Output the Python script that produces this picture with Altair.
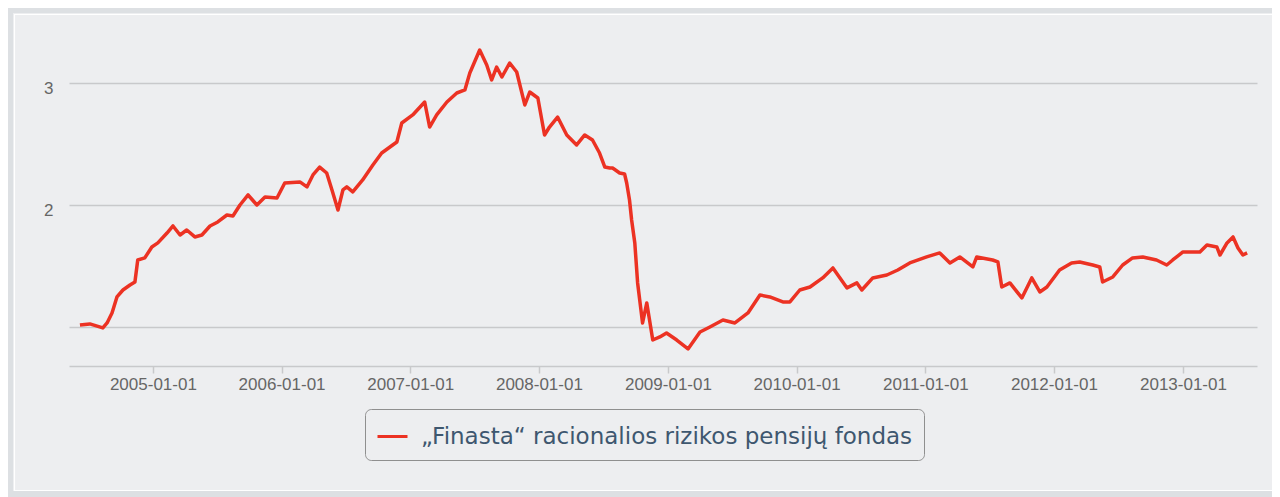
import altair as alt
import pandas as pd

series_name = "„Finasta“ racionalios rizikos pensijų fondas"

dates = [
    "2004-06-08", "2004-07-06", "2004-08-12", "2004-08-24", "2004-09-07", "2004-09-21",
    "2004-10-08", "2004-10-28", "2004-11-11", "2004-11-19", "2004-12-09", "2004-12-29",
    "2005-01-15", "2005-02-10", "2005-02-27", "2005-03-19", "2005-04-07", "2005-04-30",
    "2005-05-20", "2005-06-12", "2005-07-04", "2005-07-30", "2005-08-16", "2005-09-05",
    "2005-09-28", "2005-10-23", "2005-11-15", "2005-12-19",
    "2006-01-10", "2006-02-22", "2006-03-14", "2006-03-31", "2006-04-19", "2006-05-09",
    "2006-05-24", "2006-06-10", "2006-06-24", "2006-07-05", "2006-07-22", "2006-08-19",
    "2006-09-17", "2006-10-12", "2006-11-24", "2006-12-08",
    "2007-01-08", "2007-02-11", "2007-02-25", "2007-03-17", "2007-04-15", "2007-05-13",
    "2007-06-05", "2007-06-19", "2007-07-17", "2007-08-06", "2007-08-20", "2007-09-03",
    "2007-09-18", "2007-10-10", "2007-10-30", "2007-11-22", "2007-12-06", "2007-12-29",
    "2008-01-17", "2008-01-31", "2008-02-23", "2008-03-20", "2008-04-17", "2008-05-10",
    "2008-06-01", "2008-06-21", "2008-07-06", "2008-07-20", "2008-07-28", "2008-08-17",
    "2008-08-31", "2008-09-06", "2008-09-14", "2008-09-20", "2008-09-29", "2008-10-07",
    "2008-10-21", "2008-11-02", "2008-11-19", "2008-12-09", "2008-12-28",
    "2009-01-26", "2009-02-27", "2009-04-02", "2009-04-30", "2009-06-06", "2009-07-10",
    "2009-08-16", "2009-09-19", "2009-10-17", "2009-11-23", "2009-12-13",
    "2010-01-10", "2010-02-08", "2010-03-16", "2010-04-14", "2010-05-24", "2010-06-21",
    "2010-07-05", "2010-08-05", "2010-09-14", "2010-10-15", "2010-11-18",
    "2011-01-05", "2011-02-11", "2011-03-12", "2011-04-09", "2011-05-16", "2011-05-27",
    "2011-07-11", "2011-07-26", "2011-08-06", "2011-08-29", "2011-10-02", "2011-10-30",
    "2011-11-22", "2011-12-12",
    "2012-01-17", "2012-02-20", "2012-03-14", "2012-04-20", "2012-05-10", "2012-05-18",
    "2012-06-16", "2012-07-14", "2012-08-11", "2012-09-09", "2012-10-18", "2012-11-16",
    "2012-12-03",
    "2013-01-01", "2013-02-18", "2013-03-10", "2013-04-07", "2013-04-16", "2013-05-06",
    "2013-05-23", "2013-06-06", "2013-06-20", "2013-07-02",
]

values = [
    1.016, 1.025, 0.992, 1.033, 1.115, 1.246,
    1.303, 1.344, 1.369, 1.549, 1.566, 1.656,
    1.689, 1.770, 1.828, 1.754, 1.795, 1.738,
    1.754, 1.828, 1.861, 1.918, 1.910, 2.000,
    2.082, 2.000, 2.066, 2.057,
    2.180, 2.189, 2.148, 2.246, 2.311, 2.262,
    2.123, 1.959, 2.123, 2.148, 2.107, 2.205,
    2.328, 2.426, 2.516, 2.672,
    2.738, 2.844, 2.639, 2.738, 2.844, 2.918,
    2.943, 3.082, 3.270, 3.148, 3.025, 3.131,
    3.049, 3.164, 3.090, 2.820, 2.926, 2.877,
    2.574, 2.639, 2.721, 2.574, 2.492, 2.574,
    2.533, 2.426, 2.311, 2.303, 2.303, 2.262,
    2.254, 2.180, 2.041, 1.877, 1.689, 1.361,
    1.033, 1.197, 0.893, 0.918, 0.951,
    0.893, 0.820, 0.959, 1.000, 1.057, 1.033,
    1.115, 1.262, 1.246, 1.205, 1.205,
    1.303, 1.328, 1.402, 1.484, 1.320, 1.361,
    1.303, 1.402, 1.426, 1.467, 1.525,
    1.574, 1.607, 1.525, 1.574, 1.492, 1.574,
    1.549, 1.533, 1.328, 1.361, 1.238, 1.402,
    1.287, 1.328,
    1.467, 1.525, 1.533, 1.508, 1.492, 1.369,
    1.410, 1.508, 1.566, 1.574, 1.549, 1.508,
    1.549,
    1.615, 1.615, 1.672, 1.656, 1.590, 1.689,
    1.738, 1.648, 1.590, 1.607,
]

x_tick_years = [2005, 2006, 2007, 2008, 2009, 2010, 2011, 2012, 2013]
y_ticks = [1, 2, 3]

df = pd.DataFrame({"date": dates, "value": values, "series": series_name})

grid_gray = "#c8c9cb"
label_gray = "#666666"

line = alt.Chart(df).mark_line(strokeWidth=3.5, strokeJoin="round").encode(
    x=alt.X(
        "date:T",
        title=None,
        scale=alt.Scale(
            type="utc",
            nice=False,
            domain=[alt.DateTime(year=2004, month=5, date=8, utc=True),
                    alt.DateTime(year=2013, month=7, date=30, utc=True)],
        ),
        axis=alt.Axis(
            values=[alt.DateTime(year=y, month=1, date=1, utc=True) for y in x_tick_years],
            format="%Y-%m-%d",
            grid=False,
            domainColor=grid_gray, domainWidth=1.5,
            tickColor=grid_gray, tickWidth=1.5, tickSize=7,
            labelFont="Liberation Sans", labelFontSize=17, labelColor=label_gray,
            labelPadding=3, labelFlush=False, labelOverlap=False,
        ),
    ),
    y=alt.Y(
        "value:Q",
        title=None,
        scale=alt.Scale(domain=[0.68, 3.5], nice=False, zero=False),
        axis=alt.Axis(
            values=y_ticks,
            labelExpr="datum.value == 1 ? '' : datum.label",
            grid=True, gridColor=grid_gray, gridWidth=1.5,
            domain=False, ticks=False,
            labelFont="Liberation Sans", labelFontSize=17, labelColor=label_gray,
            labelPadding=16, labelBaseline="middle", labelOffset=6,
        ),
    ),
    color=alt.Color(
        "series:N",
        scale=alt.Scale(domain=[series_name], range=["#ec3223"]),
        legend=alt.Legend(
            title=None, orient="none", legendX=296, legendY=387,
            direction="horizontal",
            strokeColor="#8f8f8f", cornerRadius=6, padding=11,
            symbolType="stroke", symbolStrokeWidth=3, symbolSize=900,
            labelFont="DejaVu Sans", labelFontSize=23, labelColor="#3e576f",
            labelOffset=12, labelLimit=0,
        ),
    ),
)

frame = alt.Chart(alt.Data(values=[{"k": 1}])).mark_rect(
    filled=False, stroke="#dde0e3", strokeWidth=7
).encode(
    x=alt.value(-59.5), x2=alt.value(1240),
    y=alt.value(-12.5), y2=alt.value(472.5),
)

highlight = alt.Chart(alt.Data(values=[{"k": 1}])).mark_rect(
    filled=False, stroke="#ffffff", strokeWidth=1.2
).encode(
    x=alt.value(-54.5), x2=alt.value(1230),
    y=alt.value(-7.5), y2=alt.value(468.5),
)

chart = alt.layer(frame, highlight, line).properties(
    width=1188,
    height=344,
    padding={"left": 61, "top": 14, "right": 15, "bottom": 131},
    autosize=alt.AutoSizeParams(type="none"),
    background="#edeef0",
).configure_view(stroke=None)

chart.save("out.html", embed_options={"renderer": "svg", "actions": False})
